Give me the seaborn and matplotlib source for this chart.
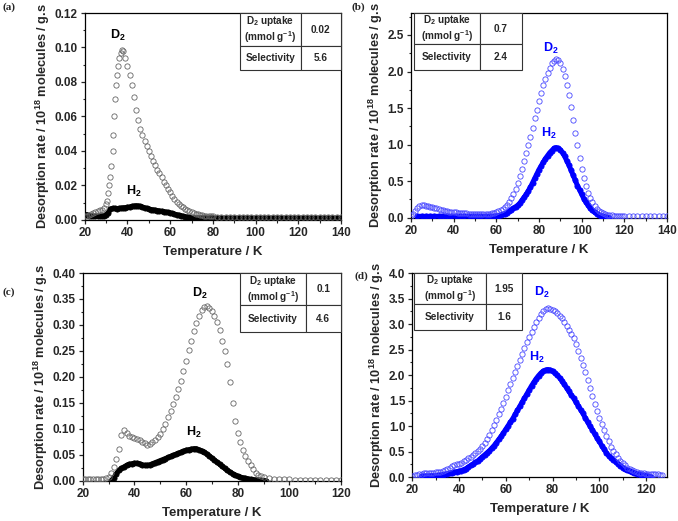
import numpy as np
import seaborn as sns
import matplotlib
matplotlib.use("Agg")
import matplotlib.pyplot as plt
from matplotlib.ticker import MultipleLocator

# ---------------- (a) ----------------
t_d2_a = [20, 21, 22, 23, 24, 25, 26, 27, 28, 29, 30, 30.5, 31, 31.5, 32, 32.5, 33, 33.3, 33.7, 34.2,
          34.7, 35.2, 35.7, 36.2, 36.8, 37.5,
          38, 39, 40, 41, 42, 43, 44, 45, 46, 47, 48, 49, 50, 51, 52, 53, 54, 55, 56, 57, 58, 59, 60,
          61, 62, 63, 64, 65, 66, 67, 68, 69, 70, 71, 72, 73, 74, 75, 76, 77, 78, 79, 80,
          82, 84, 86, 88, 90, 92, 94, 96, 98, 100, 102, 104, 106, 108, 110, 112, 114, 116, 118, 120,
          122, 124, 126, 128, 130, 132, 134, 136, 138, 140]
d2_a = [0.002, 0.0025, 0.003, 0.0035, 0.004, 0.0045, 0.005, 0.0055, 0.006, 0.007, 0.009, 0.011, 0.0157,
        0.02, 0.025, 0.031, 0.040, 0.049, 0.060, 0.070, 0.078, 0.084, 0.089, 0.094, 0.097, 0.0985,
        0.098, 0.094, 0.089, 0.084, 0.078, 0.071, 0.064, 0.058, 0.053, 0.049, 0.046, 0.043, 0.040, 0.037,
        0.034, 0.032, 0.029, 0.027, 0.025, 0.022, 0.020, 0.018, 0.016, 0.014, 0.012, 0.0105, 0.0093,
        0.0082, 0.0072, 0.0064, 0.0057, 0.005, 0.0045, 0.004, 0.0036, 0.0032, 0.0029, 0.0027, 0.0025,
        0.0023, 0.0022, 0.0021, 0.002,
        0.0019, 0.0019, 0.0019, 0.0019, 0.0019, 0.0019, 0.0019, 0.0019, 0.0019, 0.0019, 0.0019, 0.0019,
        0.0019, 0.0019, 0.0019, 0.0019, 0.0019, 0.0019, 0.0019, 0.0019, 0.0018, 0.0018, 0.0018, 0.0018,
        0.0018, 0.0018, 0.0018, 0.0018, 0.0018, 0.0018]
t_h2_a = [20, 21, 22, 23, 24, 25, 26, 27, 28, 29, 30, 31, 32, 33, 34, 35, 36, 37, 38, 39, 40, 41, 42,
          43, 44, 45, 46, 47, 48, 49, 50, 51, 52, 53, 54, 55, 56, 57, 58, 59, 60, 61, 62, 63, 64, 65,
          66, 67, 68, 69, 70, 71, 72, 73, 74, 75, 76, 77, 78, 79, 80,
          82, 84, 86, 88, 90, 92, 94, 96, 98, 100, 102, 104, 106, 108, 110, 112, 114, 116, 118, 120,
          122, 124, 126, 128, 130, 132, 134, 136, 138, 140]
h2_a = [0.003, 0.003, 0.0025, 0.0022, 0.002, 0.002, 0.002, 0.002, 0.0022, 0.0025, 0.003, 0.0042,
        0.0063, 0.0067, 0.0066, 0.0065, 0.0066, 0.0068, 0.007, 0.0071, 0.0073, 0.0075, 0.0078, 0.008,
        0.0082, 0.0081, 0.0078, 0.0074, 0.007, 0.0066, 0.0063, 0.006, 0.0058, 0.0056, 0.0054, 0.0052,
        0.005, 0.0048, 0.0045, 0.0043, 0.004, 0.0037, 0.0033, 0.003, 0.0027, 0.0024, 0.0021, 0.0018,
        0.0016, 0.0014, 0.0012, 0.0011, 0.001, 0.001, 0.001, 0.001, 0.001, 0.001, 0.001, 0.001, 0.001,
        0.001, 0.001, 0.001, 0.001, 0.001, 0.001, 0.001, 0.001, 0.001, 0.001, 0.001, 0.001, 0.001,
        0.001, 0.001, 0.001, 0.001, 0.001, 0.001, 0.001, 0.001, 0.001, 0.001, 0.001, 0.001, 0.001,
        0.001, 0.001, 0.001, 0.001]

# ---------------- (b) ----------------
t_d2_b = [20, 21, 22, 23, 24, 25, 26, 27, 28, 29, 30, 31, 32, 33, 34, 35, 36, 37, 38, 39, 40, 41, 42,
          43, 44, 45, 46, 47, 48, 49, 50, 51, 52, 53, 54, 55, 56, 57, 58, 59, 60, 61, 62, 63, 64, 65,
          66, 67, 68, 69, 70, 71, 72, 73, 74, 75, 76, 77, 78, 79, 80, 81, 82, 83, 84, 85, 86, 87, 88,
          89, 90, 91, 92, 93, 94, 95, 96, 97, 98, 99, 100, 101, 102, 103, 104, 105, 106, 107, 108, 109,
          110, 111, 112, 113, 114, 115, 116, 117, 118, 119, 120,
          122, 124, 126, 128, 130, 132, 134, 136, 138, 140]
d2_b = [0.02, 0.05, 0.09, 0.14, 0.16, 0.17, 0.17, 0.165, 0.16, 0.15, 0.145, 0.14, 0.13, 0.12, 0.105,
        0.10, 0.095, 0.09, 0.085, 0.08, 0.078, 0.075, 0.072, 0.07, 0.066, 0.062, 0.06, 0.058, 0.055,
        0.052, 0.05, 0.048, 0.046, 0.045, 0.046, 0.048, 0.052, 0.057, 0.063, 0.07, 0.08, 0.092, 0.107,
        0.125, 0.148, 0.18, 0.22, 0.27, 0.33, 0.40, 0.48, 0.57, 0.67, 0.77, 0.88, 0.99, 1.11, 1.23,
        1.36, 1.48, 1.60, 1.71, 1.81, 1.90, 1.98, 2.05, 2.11, 2.15, 2.17, 2.16, 2.11, 2.04, 1.94, 1.82,
        1.68, 1.52, 1.34, 1.16, 0.99, 0.82, 0.67, 0.54, 0.43, 0.34, 0.27, 0.21, 0.16, 0.12, 0.095,
        0.075, 0.06, 0.05, 0.042, 0.036, 0.032, 0.028, 0.025, 0.023, 0.021, 0.02, 0.02,
        0.02, 0.02, 0.02, 0.02, 0.02, 0.02, 0.02, 0.02, 0.02, 0.02]
t_h2_b = [23, 25, 27, 29, 31, 33, 35, 37, 39, 41, 43, 45, 47, 49, 51, 53, 55, 57, 59,
          60, 61, 62, 63, 64, 65, 66, 67, 68, 69, 70, 71, 72, 73, 74, 75, 76, 77, 78, 79, 80, 81, 82,
          83, 84, 85, 86, 87, 88, 89, 90, 91, 92, 93, 94, 95, 96, 97, 98, 99, 100, 101, 102, 103, 104,
          105, 106, 107, 108, 109, 110, 111, 112, 113]
h2_b = [0.02, 0.02, 0.02, 0.02, 0.02, 0.02, 0.02, 0.02, 0.02, 0.02, 0.02, 0.02, 0.02, 0.02, 0.02,
        0.02, 0.02, 0.02, 0.02,
        0.025, 0.03, 0.035, 0.045, 0.055, 0.07, 0.09, 0.11, 0.13, 0.15, 0.17, 0.20, 0.24, 0.28, 0.32,
        0.37, 0.42, 0.48, 0.54, 0.60, 0.66, 0.71, 0.76, 0.81, 0.85, 0.89, 0.92, 0.95, 0.96, 0.95, 0.93,
        0.89, 0.84, 0.78, 0.72, 0.65, 0.58, 0.51, 0.44, 0.38, 0.32, 0.26, 0.21, 0.17, 0.13, 0.10,
        0.075, 0.055, 0.04, 0.03, 0.02, 0.012, 0.006, 0.003]

# ---------------- (c) ----------------
t_d2_c = [20, 21, 22, 23, 24, 25, 26, 27, 28, 29, 30, 31, 32, 33, 34, 35, 36, 37, 38, 39, 40, 41, 42,
          43, 44, 45, 46, 47, 48, 49, 50, 51, 52, 53, 54, 55, 56, 57, 58, 59, 60, 61, 62, 63, 64, 65,
          66, 67, 68, 69, 70, 71, 72, 73, 74, 75, 76, 77, 78, 79, 80, 81, 82, 83, 84, 85, 86, 87, 88,
          89, 90, 92, 94, 96, 98, 100, 102, 104, 106, 108, 110, 112, 114, 116, 118, 120]
d2_c = [0.004, 0.004, 0.004, 0.004, 0.004, 0.004, 0.004, 0.004, 0.004, 0.005, 0.008, 0.015, 0.027,
        0.042, 0.062, 0.088, 0.097, 0.092, 0.086, 0.084, 0.083, 0.081, 0.078, 0.075, 0.072, 0.070,
        0.071, 0.074, 0.078, 0.084, 0.091, 0.10, 0.11, 0.122, 0.135, 0.148, 0.162, 0.177, 0.193, 0.211,
        0.231, 0.251, 0.27, 0.288, 0.304, 0.318, 0.328, 0.334, 0.336, 0.333, 0.327, 0.318, 0.306, 0.29,
        0.27, 0.25, 0.225, 0.19, 0.15, 0.115, 0.092, 0.075, 0.06, 0.048, 0.038, 0.03, 0.022, 0.016,
        0.012, 0.009, 0.007, 0.005, 0.004, 0.0035, 0.003, 0.003, 0.0025, 0.0025, 0.002, 0.002, 0.002,
        0.002, 0.002, 0.002, 0.002, 0.002]
t_h2_c = [31, 32, 33, 34, 35, 36, 37, 38, 39, 40, 41, 42, 43, 44, 45, 46, 47, 48, 49, 50, 51, 52, 53,
          54, 55, 56, 57, 58, 59, 60, 61, 62, 63, 64, 65, 66, 67, 68, 69, 70, 71, 72, 73, 74, 75, 76,
          77, 78, 79, 80, 81, 82, 83, 84, 85, 86, 87, 88, 89, 90, 91]
h2_c = [0.0, 0.006, 0.014, 0.02, 0.024, 0.027, 0.03, 0.032, 0.033, 0.034, 0.034, 0.033, 0.031, 0.030,
        0.030, 0.031, 0.033, 0.035, 0.037, 0.039, 0.041, 0.043, 0.045, 0.047, 0.049, 0.051, 0.053,
        0.055, 0.057, 0.059, 0.060, 0.061, 0.062, 0.062, 0.060, 0.058, 0.055, 0.052, 0.048, 0.044,
        0.040, 0.036, 0.032, 0.028, 0.024, 0.020, 0.017, 0.014, 0.011, 0.009, 0.007, 0.006, 0.005,
        0.004, 0.003, 0.0025, 0.002, 0.0015, 0.001, 0.0005, 0.0]

# ---------------- (d) ----------------
t_d2_d = [20, 21, 22, 23, 24, 25, 26, 27, 28, 29, 30, 31, 32, 33, 34, 35, 36, 37, 38, 39, 40, 41, 42,
          43, 44, 45, 46, 47, 48, 49, 50, 51, 52, 53, 54, 55, 56, 57, 58, 59, 60, 61, 62, 63, 64, 65,
          66, 67, 68, 69, 70, 71, 72, 73, 74, 75, 76, 77, 78, 79, 80, 81, 82, 83, 84, 85, 86, 87, 88,
          89, 90, 91, 92, 93, 94, 95, 96, 97, 98, 99, 100, 101, 102, 103, 104, 105, 106, 107, 108, 109,
          110, 111, 112, 113, 114, 115, 116, 117, 118, 119, 120, 121, 122, 123, 124, 125, 126, 127]
d2_d = [0.03, 0.04, 0.05, 0.06, 0.07, 0.08, 0.08, 0.085, 0.09, 0.09, 0.095, 0.10, 0.11, 0.12, 0.14,
        0.16, 0.19, 0.22, 0.24, 0.25, 0.26, 0.28, 0.31, 0.34, 0.37, 0.40, 0.43, 0.47, 0.51, 0.56, 0.62,
        0.68, 0.75, 0.83, 0.92, 1.02, 1.12, 1.23, 1.34, 1.46, 1.58, 1.70, 1.82, 1.94, 2.06, 2.18, 2.30,
        2.42, 2.54, 2.65, 2.75, 2.85, 2.95, 3.04, 3.12, 3.19, 3.25, 3.29, 3.31, 3.30, 3.28, 3.25, 3.21,
        3.16, 3.11, 3.04, 2.96, 2.88, 2.80, 2.72, 2.60, 2.47, 2.33, 2.19, 2.06, 1.90, 1.74, 1.59, 1.44,
        1.29, 1.16, 1.04, 0.92, 0.81, 0.70, 0.60, 0.52, 0.45, 0.38, 0.32, 0.27, 0.23, 0.19, 0.16, 0.14,
        0.12, 0.10, 0.09, 0.08, 0.075, 0.07, 0.065, 0.06, 0.06, 0.055, 0.055, 0.05, 0.05]
t_h2_d = [24, 25, 26, 27, 28, 29, 30, 31, 32, 33, 34, 35, 36, 37, 38, 39, 40, 41, 42, 43, 44, 45, 46,
          47, 48, 49, 50, 51, 52, 53, 54, 55, 56, 57, 58, 59, 60, 61, 62, 63, 64, 65, 66, 67, 68, 69,
          70, 71, 72, 73, 74, 75, 76, 77, 78, 79, 80, 81, 82, 83, 84, 85, 86, 87, 88, 89, 90, 91, 92,
          93, 94, 95, 96, 97, 98, 99, 100, 101, 102, 103, 104, 105, 106, 107, 108, 109, 110, 111, 112,
          113, 114, 115, 116, 117, 118, 119, 120, 121, 122]
h2_d = [0.02, 0.02, 0.025, 0.025, 0.03, 0.03, 0.03, 0.035, 0.04, 0.05, 0.06, 0.07, 0.08, 0.09, 0.10,
        0.11, 0.12, 0.13, 0.15, 0.17, 0.20, 0.23, 0.26, 0.29, 0.32, 0.36, 0.40, 0.44, 0.48, 0.52, 0.57,
        0.62, 0.68, 0.74, 0.80, 0.87, 0.94, 1.01, 1.08, 1.15, 1.23, 1.31, 1.39, 1.47, 1.55, 1.63, 1.71,
        1.79, 1.86, 1.93, 1.99, 2.04, 2.08, 2.10, 2.11, 2.10, 2.08, 2.04, 2.00, 1.95, 1.89, 1.82, 1.75,
        1.68, 1.61, 1.55, 1.47, 1.40, 1.32, 1.25, 1.16, 1.08, 1.00, 0.93, 0.85, 0.77, 0.70, 0.62, 0.55,
        0.48, 0.42, 0.38, 0.34, 0.30, 0.26, 0.22, 0.19, 0.16, 0.14, 0.12, 0.10, 0.085, 0.07, 0.06,
        0.05, 0.04, 0.03, 0.02, 0.01]

uptakes = ["0.02", "0.7", "0.1", "1.95"]
selectivities = ["5.6", "2.4", "4.6", "1.6"]
panel_letters = ["(a)", "(b)", "(c)", "(d)"]

sns.set_style("ticks")
plt.rcParams['font.family'] = ['Liberation Sans', 'DejaVu Sans']
plt.rcParams['font.weight'] = 'bold'
plt.rcParams['axes.labelweight'] = 'bold'
plt.rcParams['mathtext.fontset'] = 'custom'
plt.rcParams['mathtext.rm'] = 'Liberation Sans:bold'
plt.rcParams['mathtext.bf'] = 'Liberation Sans:bold'
plt.rcParams['mathtext.it'] = 'Liberation Sans:bold'
plt.rcParams['mathtext.default'] = 'bf'


def draw_panel(ax, t_d2, d2, t_h2, h2, c_d2, c_h2, xmax, ymax, ystep, yfmt):
    sns.lineplot(x=t_h2, y=h2, ax=ax, color=c_h2, linewidth=3.6, marker='o', markersize=3.8,
                 markeredgecolor=c_h2, markeredgewidth=0.5, sort=False, zorder=3)
    sns.lineplot(x=t_d2, y=d2, ax=ax, color=c_d2, linestyle='none', marker='o', markersize=3.8,
                 markerfacecolor='none', markeredgecolor=c_d2, markeredgewidth=0.6, sort=False, zorder=4)
    ax.set_xlim(20, xmax)
    ax.xaxis.set_major_locator(MultipleLocator(20))
    ax.xaxis.set_minor_locator(MultipleLocator(10))
    ax.yaxis.set_major_locator(MultipleLocator(ystep))
    ax.yaxis.set_minor_locator(MultipleLocator(ystep / 2))
    ax.yaxis.set_major_formatter(plt.FormatStrFormatter(yfmt))
    ax.set_ylim(0, ymax)
    ax.tick_params(which='major', direction='out', length=3, width=0.9, labelsize=8.5, pad=2)
    ax.tick_params(which='minor', direction='out', length=1.8, width=0.8)
    for lab in ax.get_xticklabels() + ax.get_yticklabels():
        lab.set_fontweight('bold')
    for sp in ax.spines.values():
        sp.set_visible(True)
        sp.set_linewidth(0.9)
        sp.set_color('black')
    ax.set_xlabel('Temperature / K', fontsize=9.5, fontweight='bold', labelpad=5)
    ax.set_ylabel('Desorption rate / 10$^{18}$ molecules / g.s', fontsize=9.2, fontweight='bold',
                  labelpad=2)


def add_table(ax, uptake, sel, bbox, col0, row0):
    tb = ax.table(cellText=[["D$_2$ uptake\n(mmol g$^{-1}$)", uptake], ["Selectivity", sel]],
                  cellLoc='center', colWidths=[col0, 1 - col0], bbox=bbox, zorder=6)
    tb.auto_set_font_size(False)
    tb.set_fontsize(7.2)
    for (r, c), cell in tb.get_celld().items():
        cell.set_height(row0 if r == 0 else 1 - row0)
        cell.set_edgecolor('#333333')
        cell.set_linewidth(0.8)
        cell.get_text().set_fontweight('bold')
        cell.get_text().set_linespacing(1.1)


fig = plt.figure(figsize=(6.78, 5.21), dpi=100)
ax_a = fig.add_axes([0.125, 0.578, 0.378, 0.397])
ax_b = fig.add_axes([0.606, 0.582, 0.378, 0.393])
ax_c = fig.add_axes([0.122, 0.077, 0.381, 0.399])
ax_d = fig.add_axes([0.608, 0.084, 0.376, 0.392])

draw_panel(ax_a, t_d2_a, d2_a, t_h2_a, h2_a, '#666666', 'black', 140, 0.12, 0.02, '%.2f')
draw_panel(ax_b, t_d2_b, d2_b, t_h2_b, h2_b, '#4848ff', '#0000ff', 140, 2.8, 0.5, '%.1f')
draw_panel(ax_c, t_d2_c, d2_c, t_h2_c, h2_c, '#666666', 'black', 120, 0.40, 0.05, '%.2f')
draw_panel(ax_d, t_d2_d, d2_d, t_h2_d, h2_d, '#4848ff', '#0000ff', 129, 4.0, 0.5, '%.1f')

add_table(ax_a, uptakes[0], selectivities[0], [0.605, 0.725, 0.395, 0.275], 0.6, 0.58)
add_table(ax_b, uptakes[1], selectivities[1], [0.012, 0.722, 0.42, 0.278], 0.61, 0.55)
add_table(ax_c, uptakes[2], selectivities[2], [0.609, 0.716, 0.391, 0.284], 0.65, 0.55)
add_table(ax_d, uptakes[3], selectivities[3], [0.008, 0.72, 0.424, 0.28], 0.66, 0.55)

# curve labels
lab_kw = dict(fontsize=9, fontweight='bold', ha='center', va='center')
ax_a.text(35.5, 0.107, 'D$_2$', color='black', **lab_kw)
ax_a.text(42.8, 0.0165, 'H$_2$', color='black', **lab_kw)
ax_b.text(85.6, 2.32, 'D$_2$', color='#0000ff', **lab_kw)
ax_b.text(84.4, 1.16, 'H$_2$', color='#0000ff', **lab_kw)
ax_c.text(65.3, 0.36, 'D$_2$', color='black', **lab_kw)
ax_c.text(63, 0.093, 'H$_2$', color='black', **lab_kw)
ax_d.text(75.2, 3.62, 'D$_2$', color='#0000ff', **lab_kw)
ax_d.text(73.2, 2.34, 'H$_2$', color='#0000ff', **lab_kw)

# panel letters
let_kw = dict(fontsize=8, fontweight='bold', family='Liberation Serif', va='top', ha='left')
fig.text(0.003, 0.995, panel_letters[0], **let_kw)
fig.text(0.518, 0.995, panel_letters[1], **let_kw)
fig.text(0.003, 0.448, panel_letters[2], **let_kw)
fig.text(0.523, 0.48, panel_letters[3], **let_kw)

fig.savefig('out.png', dpi=100)
